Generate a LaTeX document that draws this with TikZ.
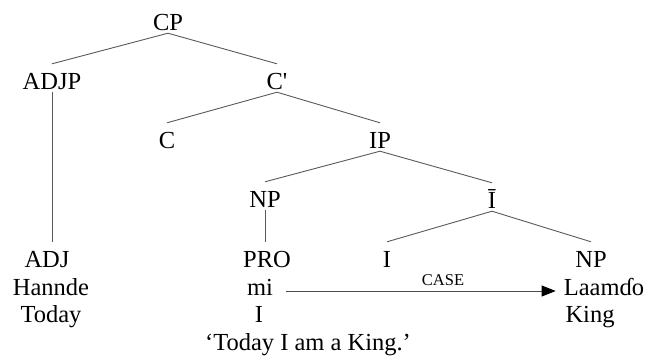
\documentclass[tikz,border=0pt]{standalone}
\usepackage{fontspec}
\setmainfont{Liberation Serif}
\usetikzlibrary{arrows.meta}
\begin{document}
\begin{tikzpicture}
        [x=1pt,y=-1pt,
        word/.style={inner sep=0pt, anchor=base, text height=25pt, text depth=3pt,
            font=\fontsize{24.5}{27}\selectfont},
        small/.style={inner sep=0pt, anchor=base, font=\fontsize{16.5}{18}\selectfont},
        line/.style={draw=black!65, line width=0.9pt},
        casearrow/.style={draw=black!70, line width=0.9pt,
            -{Triangle[length=14pt,width=11pt,black]}}]
        \useasboundingbox (0,0) rectangle (649,360);
        % tree
        \node[word] (CP) at (168,30) {CP};
        \node[word] (ADJP) at (52,89) {ADJP};
        \node[word] (Cbar) at (277,89) {C\textquotesingle};
        \node[word] (C) at (167,148) {C};
        \node[word] (IP) at (380,148) {IP};
        \node[word] (NP) at (265,207) {NP};
        \node[word] (Ibar) at (492,208) {Ī};
        \node[word] (ADJ) at (47,267) {ADJ};
        \node[word] (PRO) at (267,267) {PRO};
        \node[word] (I) at (387,267) {I};
        \node[word] (NPobj) at (591,267) {NP};
        % words and glosses
        \node[word] (Hannde) at (51,295) {Hannde};
        \node[word] (mi) at (260,295) {mi};
        \node[word] (Laamdo) at (604,295) {Laamɗo};
        \node[word] (Today) at (51,322) {Today};
        \node[word] (Iglos) at (259,322) {I};
        \node[word] (King) at (590,322) {King};
        \node[word] (gloss) at (308,350) {`Today I am a King.'};
        \node[small] (case) at (443,285) {CASE};
        % branches
        \draw[line] (CP.south) -- (ADJP.north);
        \draw[line] (CP.south) -- (Cbar.north);
        \draw[line] (ADJP.south) -- (ADJP.south |- ADJ.north);
        \draw[line] (Cbar.south) -- (C.north);
        \draw[line] (Cbar.south) -- (IP.north);
        \draw[line] (IP.south) -- (NP.north);
        \draw[line] (IP.south) -- (Ibar.north);
        \draw[line] (NP.south) -- (NP.south |- PRO.north);
        \draw[line] (Ibar.south) -- (I.north);
        \draw[line] (Ibar.south) -- (NPobj.north);
        \draw[casearrow] ([xshift=13pt,yshift=4pt]mi.base east) -- ([xshift=-8pt,yshift=4pt]Laamdo.base west);
    \end{tikzpicture}
\end{document}
